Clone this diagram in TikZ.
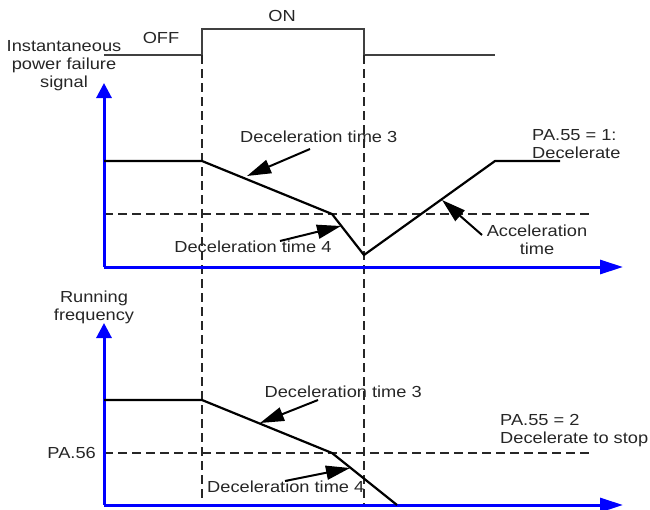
\documentclass[tikz,border=0pt]{standalone}
\usepackage{fontspec}
\setmainfont[FakeStretch=1.14]{Liberation Sans}
\usetikzlibrary{arrows.meta}
\begin{document}
\begin{tikzpicture}[x=1pt,y=-1pt,
  lbl/.style={font=\fontsize{16}{18}\selectfont, inner sep=0pt, text=black!85},
  vaxis/.style={blue, line width=3pt, -{Triangle[length=15pt,width=15pt]}},
  haxis/.style={blue, line width=3pt, -{Triangle[length=23pt,width=14pt]}},
  curve/.style={black, line width=2.2pt, line join=miter},
  guide/.style={black!85, line width=1.4pt, dash pattern=on 9pt off 5pt},
  sig/.style={black!75, line width=1.2pt},
  callout/.style={black, line width=2pt, -{Triangle[length=24pt,width=14pt]}}]
\useasboundingbox (0,0) rectangle (650,509);

% ---------- signal ----------
\coordinate (s0) at (104,55);
\coordinate (s1) at (202,55);
\coordinate (s2) at (202,29);
\coordinate (s3) at (364,29);
\coordinate (s4) at (364,55);
\coordinate (s5) at (495,55);
\draw[sig] (s0) -- (s1) -- (s2) -- (s3) -- (s4) -- (s5);
\node[lbl] (off) at (161,38) {OFF};
\node[lbl] (on) at (282,16) {ON};
\node[lbl, align=center] (sigl) at (64,66) {Instantaneous\\power failure\\signal};

% ---------- vertical guides ----------
\coordinate (g1t) at (202,55);
\coordinate (g1b) at (202,500);
\coordinate (g2t) at (364,55);
\coordinate (g2b) at (364,505);
\draw[guide] (g1t) -- (g1b);
\draw[guide] (g2t) -- (g2b);

% ---------- upper plot ----------
\coordinate (uo) at (104,267);
\coordinate (uy) at (104,83);
\coordinate (ux) at (623,267);
\coordinate (ud1) at (104,214);
\coordinate (ud2) at (593,214);
\draw[guide] (ud1) -- (ud2);
\draw[vaxis] (uo) -- (uy);
\draw[haxis] (uo) -- (ux);

\coordinate (u0) at (104,161);
\coordinate (u1) at (202,161);
\coordinate (u2) at (332,214);
\coordinate (u3) at (364,255);
\coordinate (u4) at (495,161);
\coordinate (u5) at (560,161);
\draw[curve] (u0) -- (u1) -- (u2) -- (u3) -- (u4) -- (u5);

\node[lbl, anchor=west] (ud3) at (240,137) {Deceleration time 3};
\coordinate (ua3s) at (310,149);
\coordinate (ua3t) at (247,176);
\draw[callout] (ua3s) -- (ua3t);

\node[lbl] (ud4) at (253,247) {Deceleration time 4};
\coordinate (ua4s) at (280,241);
\coordinate (ua4t) at (341,226);
\draw[callout] (ua4s) -- (ua4t);

\node[lbl, align=left, anchor=west] (upa) at (532,144) {PA.55 = 1:\\Decelerate};

\node[lbl, align=center] (uacc) at (537,240) {Acceleration\\time};
\coordinate (uaas) at (482,235);
\coordinate (uaat) at (442,200);
\draw[callout] (uaas) -- (uaat);

% ---------- lower plot ----------
\node[lbl, align=center] (runl) at (94,307) {Running\\frequency};
\coordinate (lo) at (104,505);
\coordinate (ly) at (104,323);
\coordinate (lx) at (623,505);
\coordinate (ld1) at (104,453);
\coordinate (ld2) at (593,453);
\draw[guide] (ld1) -- (ld2);
\draw[vaxis] (lo) -- (ly);
\draw[haxis] (lo) -- (lx);
\node[lbl, anchor=east] (pa56) at (96,453) {PA.56};

\coordinate (l0) at (104,400);
\coordinate (l1) at (202,400);
\coordinate (l2) at (332,453);
\coordinate (l3) at (397,505);
\draw[curve] (l0) -- (l1) -- (l2) -- (l3);

\node[lbl, anchor=east] (ld3) at (422,392) {Deceleration time 3};
\coordinate (la3s) at (318,400);
\coordinate (la3t) at (260,423);
\draw[callout] (la3s) -- (la3t);

\node[lbl, anchor=west] (ld4) at (207,487) {Deceleration time 4};
\coordinate (la4s) at (285,481);
\coordinate (la4t) at (350,468);
\draw[callout] (la4s) -- (la4t);

\node[lbl, align=left, anchor=west] (lpa) at (500,431) {PA.55 = 2\\Decelerate to stop};
\end{tikzpicture}
\end{document}
